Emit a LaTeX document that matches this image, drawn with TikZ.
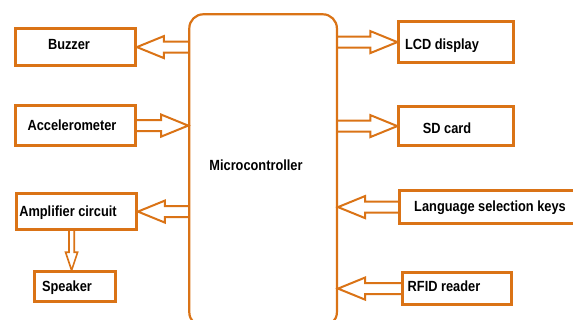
\documentclass[tikz,border=0pt]{standalone}
\usepackage{fontspec}
\usepackage{graphicx}
\setmainfont{Liberation Sans}
\usetikzlibrary{calc}
\definecolor{oc}{RGB}{218,115,22}
\newcommand{\lbl}[1]{\scalebox{1}[1.15]{#1}}
\def\bas{5.5pt}\def\bah{11pt}\def\bal{27pt}
\begin{document}
\begin{tikzpicture}[x=1pt,y=-1pt,
  box/.style 2 args={draw=oc, line width=2.6pt, inner sep=0pt,
    minimum width=#1, minimum height=#2, anchor=north west},
  txt/.style={font=\bfseries\fontsize{12.8}{15}\selectfont, inner sep=0pt, anchor=base},
  ba shaft/.code={\def\bas{#1}}, ba head/.code={\def\bah{#1}}, ba len/.code={\def\bal{#1}},
  barrow/.style={draw=oc, line width=2pt, line join=miter,
    to path={
      ($(\tikztostart)!\bas!90:(\tikztotarget)$)
      -- ($(\tikztotarget)!\bal!(\tikztostart)!\bas!90:(\tikztotarget)$)
      -- ($(\tikztotarget)!\bal!(\tikztostart)!\bah!90:(\tikztotarget)$)
      -- (\tikztotarget)
      -- ($(\tikztotarget)!\bal!(\tikztostart)!\bah!-90:(\tikztotarget)$)
      -- ($(\tikztotarget)!\bal!(\tikztostart)!\bas!-90:(\tikztotarget)$)
      -- ($(\tikztostart)!\bas!-90:(\tikztotarget)$)
    }},
  small arrow/.style={barrow, ba shaft=2.6pt, ba head=6pt, ba len=18pt, line width=1.6pt}
]
\useasboundingbox (0,0) rectangle (573,320);
% boxes
\node[box={120pt}{37pt}] (buz) at (14.3,27.3) {};
\node[box={120pt}{40pt}] (acc) at (14.3,104.3) {};
\node[box={120pt}{36pt}] (amp) at (15.3,192.3) {};
\node[box={81pt}{30pt}] (spk) at (33.3,270.3) {};
\node[box={115pt}{41pt}] (lcd) at (397.3,20.3) {};
\node[box={115pt}{39pt}] (sd) at (397.3,105.3) {};
\node[box={185pt}{33pt}] (lang) at (398.3,189.3) {};
\node[box={109pt}{32pt}] (rfid) at (401.3,271.3) {};
\node[draw=oc, line width=2.2pt, rounded corners=14pt, inner sep=0pt,
  minimum width=147.6pt, minimum height=312pt, anchor=north west] (mc) at (188.2,13.2) {};
% labels
\node[txt] (buzt) at (69,49.3) {\lbl{Buzzer}};
\node[txt] (acct) at (72,130.3) {\lbl{Accelerometer}};
\node[txt] (ampt) at (68,216.3) {\lbl{Amplifier circuit}};
\node[txt] (spkt) at (67,291.3) {\lbl{Speaker}};
\node[txt] (mct) at (256,170.3) {\lbl{Microcontroller}};
\node[txt] (lcdt) at (442,49.3) {\lbl{LCD display}};
\node[txt] (sdt) at (447,133.3) {\lbl{SD card}};
\node[txt] (langt) at (490,212) {\lbl{Language selection keys}};
\node[txt] (rfidt) at (444,292) {\lbl{RFID reader}};
% arrows
\draw[barrow] (mc.west |- buz.east) to (buz.east);
\draw[barrow] (acc.east) to (mc.west |- acc.east);
\draw[barrow] (mc.west |- amp.east) to (amp.east);
\draw[small arrow] ([xshift=-5pt]amp.south) to ([xshift=-5pt]amp.south |- spk.north);
\draw[barrow] (mc.east |- lcd.west) to (lcd.west);
\draw[barrow] (mc.east |- sd.west) to (sd.west);
\draw[barrow] (lang.west) to (mc.east |- lang.west);
\draw[barrow] (rfid.west) to (mc.east |- rfid.west);
\end{tikzpicture}
\end{document}
